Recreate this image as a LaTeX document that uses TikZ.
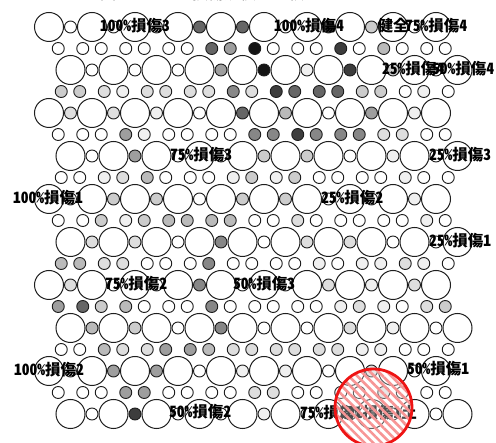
\documentclass[tikz,border=0pt]{standalone}
\usepackage{fontspec}
\usepackage{tikz}
\usetikzlibrary{patterns.meta}
\IfFontExistsTF{Noto Sans CJK JP Black}
  {\newfontfamily\jpfont{Noto Sans CJK JP Black}[RawFeature=+hwid]}
  {\newfontfamily\jpfont{Noto Sans CJK JP}[RawFeature=+hwid,FakeBold=2.5]}
\newfontfamily\jptitle{Noto Sans CJK JP}
\definecolor{ringline}{RGB}{30, 30, 30}
\definecolor{markred}{RGB}{238, 20, 20}
\definecolor{shade0}{gray}{1.00}
\definecolor{shade1}{gray}{0.94}
\definecolor{shade2}{gray}{0.87}
\definecolor{shade3}{gray}{0.80}
\definecolor{shade4}{gray}{0.73}
\definecolor{shade5}{gray}{0.62}
\definecolor{shade6}{gray}{0.53}
\definecolor{shade7}{gray}{0.40}
\definecolor{shade8}{gray}{0.24}
\definecolor{shade9}{gray}{0.08}
\tikzset{
  bigtube/.style={draw=ringline, line width=1pt, fill=white},
  smalltube/.style={draw=ringline, line width=0.9pt},
  dmg/.style={font=\jpfont\fontsize{15.5}{16}\selectfont, inner sep=0pt, text=black}
}
\begin{document}
\begin{tikzpicture}[x=1pt,y=-1pt]
  \clip (0,0) rectangle (496,443);
  % title, cut off by the top edge
  \node[anchor=base, inner sep=0pt, font=\jptitle\fontsize{16}{16}\selectfont] (ttla) at (108,0) {図};
  \node[anchor=base, inner sep=0pt, font=\jptitle\fontsize{16}{16}\selectfont] (ttlb) at (248,0) {損傷規模の比較};
  % large tubes
  \foreach \r in {0,...,9}
    \foreach \i in {0,...,9}
      \draw[bigtube] ({49+43*\i+21.5*mod(\r,2)},{27+43*\r}) circle[radius=14.5];
  % small tubes inside each row
  \foreach \r/\lst in {0/{0,0,0,7,7,0,8,3,0}, 1/{0,0,0,5,9,1,8,3,0},
                       2/{2,2,1,0,7,4,0,5,1}, 3/{0,5,0,0,3,3,0,1,0},
                       4/{0,3,3,0,3,3,0,0,1}, 5/{2,2,0,6,0,2,2,0,0},
                       6/{2,0,0,6,0,0,2,1,2}, 7/{4,3,0,6,0,0,2,1,0},
                       8/{0,5,5,0,1,1,0,2,0}, 9/{0,8,0,0,1,0,0,0,0}}
    \foreach \s [count=\k from 0] in \lst
      \draw[smalltube, fill=shade\s] ({70.5+43*\k+21.5*mod(\r,2)},{27+43*\r}) circle[radius=6];
  % small tubes between the rows
  \foreach \r/\lst in {0/{0,0,0,0,0,0,0,7,5,9,0,0,0,8,0,4,0,0,0},
                       1/{3,3,2,1,2,2,2,2,6,2,8,7,7,7,3,3,0,1,0},
                       2/{0,0,0,5,1,0,0,0,0,6,6,8,6,6,6,2,2,0,0},
                       3/{0,0,1,2,4,0,0,0,1,3,1,3,0,0,0,0,1,0,0},
                       4/{0,0,3,1,3,4,4,4,4,0,0,2,0,0,0,0,0,1,0},
                       5/{4,4,2,2,0,0,0,6,0,0,0,0,1,0,1,1,2,1,0},
                       6/{5,7,3,4,0,0,0,6,0,0,0,0,0,1,2,1,0,2,3},
                       7/{0,0,4,2,2,5,5,4,2,2,2,2,2,2,1,1,0,0,0},
                       8/{0,0,0,5,5,0,0,0,0,2,2,0,0,0,0,2,0,0,0}}
    \foreach \s [count=\m from 0] in \lst
      \draw[smalltube, fill=shade\s] ({59.75+21.5*\m+1.5*(2*mod(\m+\r,2)-1)},{48.5+43*\r}) circle[radius=6];
  % damage labels
  \node[dmg] (lbla) at (135,26) {100\%損傷3};
  \node[dmg] (lblb) at (309,26) {100\%損傷4};
  \node[dmg] (lblc) at (393,26) {健全};
  \node[dmg] (lbld) at (436,26) {75\%損傷4};
  \node[dmg] (lble) at (413,69) {25\%損傷4};
  \node[dmg] (lblf) at (463,69) {50\%損傷4};
  \node[dmg] (lblg) at (201,155) {75\%損傷3};
  \node[dmg] (lblh) at (460,155) {25\%損傷3};
  \node[dmg] (lbli) at (48,198) {100\%損傷1};
  \node[dmg] (lblj) at (352,198) {25\%損傷2};
  \node[dmg] (lblk) at (460,241) {25\%損傷1};
  \node[dmg] (lbll) at (136,284) {75\%損傷2};
  \node[dmg] (lblm) at (264,284) {50\%損傷3};
  \node[dmg] (lbln) at (49,370) {100\%損傷2};
  \node[dmg] (lblo) at (438,369) {50\%損傷1};
  \node[dmg] (lblp) at (200,412) {50\%損傷2};
  \node[dmg] (lblq) at (331,413) {75\%損傷1};
  \node[dmg] (lblr) at (378,413) {50\%損傷1土};
  % red hatched mark
  \coordinate (mark) at (373.5,407.5);
  \fill[white, fill opacity=0.3] (mark) circle[radius=38.5];
  \fill[pattern={Lines[angle=-45,distance=6pt,line width=2.6pt]}, pattern color=markred!45, fill opacity=0.8] (mark) circle[radius=38.5];
  \draw[markred, line width=2.8pt] (mark) circle[radius=38.5];
\end{tikzpicture}
\end{document}
